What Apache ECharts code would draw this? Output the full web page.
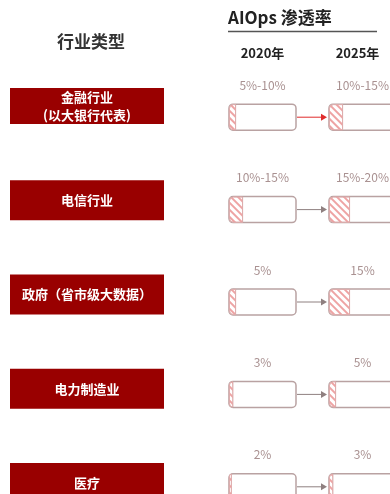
<!DOCTYPE html>
<html>
<head>
<meta charset="utf-8">
<title></title>
<style>
  html, body { margin: 0; padding: 0; background: #fff; }
  #tubiao { width: 390px; height: 494px; }
</style>
</head>
<body>
<div id="tubiao"></div>
<script src="https://cdn.jsdelivr.net/npm/echarts@6/dist/echarts.min.js"></script>
<script>
// 行业类型
var hylx = ['金融行业\n(以大银行代表)', '电信行业', '政府（省市级大数据）', '电力制造业', '医疗'];
var nf = ['2020年', '2025年'];
// 渗透率（取区间下限画阴影）
var stl2020 = [5, 10, 5, 3, 2];
var stl2025 = [10, 15, 15, 5, 3];
// 条形上方文字
var bq2020 = ['5%-10%', '10%-15%', '5%', '3%', '2%'];
var bq2025 = ['10%-15%', '15%-20%', '15%', '5%', '3%'];
var zd = 48; // 整个方框代表的刻度

var ziti = '"Noto Sans CJK SC", "Noto Sans", sans-serif';
var tkw = 67;   // 方框宽度
var x2020 = 229, x2025 = 329;
var barTop = 71, barH = 462;

var hatch = {
  symbol: 'rect',
  symbolSize: 1,
  color: '#eea3a3',
  dashArrayX: [1, 0],
  dashArrayY: [2, 3],
  rotation: Math.PI / 4
};

function tiaoxing(idx, vals, bq) {
  return {
    type: 'bar',
    xAxisIndex: idx,
    yAxisIndex: idx,
    data: vals,
    barWidth: 26,
    showBackground: true,
    backgroundStyle: {
      color: '#fff',
      borderColor: '#b9a2a2',
      borderWidth: 1.5,
      borderRadius: 4
    },
    itemStyle: {
      color: '#fff',
      borderColor: '#dcaaaa',
      borderWidth: 0.8,
      borderRadius: [4, 0, 0, 4],
      decal: hatch
    },
    label: {
      show: true,
      position: [tkw / 2, -19],
      align: 'center',
      verticalAlign: 'middle',
      fontFamily: ziti,
      fontSize: 12,
      color: '#a99191',
      formatter: function (p) { return bq[p.dataIndex]; }
    },
    silent: true
  };
}

var myChart = echarts.init(document.getElementById('tubiao'));
myChart.setOption({
  animation: false,
  grid: [
    { left: 87, width: 1, top: 59, height: 471, outerBoundsMode: 'none' },
    { left: x2020, width: tkw, top: barTop, height: barH, outerBoundsMode: 'none' },
    { left: x2025, width: tkw, top: barTop, height: barH, outerBoundsMode: 'none' }
  ],
  xAxis: [
    { gridIndex: 0, type: 'value', show: false },
    { gridIndex: 1, type: 'value', min: 0, max: zd, show: false },
    { gridIndex: 2, type: 'value', min: 0, max: zd, show: false }
  ],
  yAxis: [
    {
      gridIndex: 0, type: 'category', inverse: true, data: hylx,
      axisLine: { show: false }, axisTick: { show: false }, splitLine: { show: false },
      axisLabel: {
        margin: 0,
        align: 'center',
        verticalAlign: 'middle',
        backgroundColor: '#990000',
        width: 154,
        color: '#fff',
        fontFamily: ziti,
        fontWeight: 'bold',
        fontSize: 13,
        formatter: function (v) {
          var hang = v.split('\n');
          var ys = hang.length > 1 ? 'two' : 'one';
          return hang.map(function (h) { return '{' + ys + '|' + h + '}'; }).join('\n');
        },
        rich: {
          one: { color: '#fff', fontFamily: ziti, fontWeight: 'bold', fontSize: 13, lineHeight: 40, width: 154, align: 'center' },
          two: { color: '#fff', fontFamily: ziti, fontWeight: 'bold', fontSize: 13, lineHeight: 18, width: 154, align: 'center' }
        }
      }
    },
    { gridIndex: 1, type: 'category', inverse: true, data: hylx, show: false },
    { gridIndex: 2, type: 'category', inverse: true, data: hylx, show: false }
  ],
  series: [
    tiaoxing(1, stl2020, bq2020),
    tiaoxing(2, stl2025, bq2025)
  ]
});

// 标题、年份和箭头
var tuxing = [
  { type: 'text', x: 91, y: 42, style: { text: '行业类型', fill: '#333', font: 'bold 17px ' + ziti, textAlign: 'center', textVerticalAlign: 'middle' } },
  { type: 'text', x: 228, y: 18, style: { text: 'AIOps 渗透率', fill: '#222', font: 'bold 17px ' + ziti, textAlign: 'left', textVerticalAlign: 'middle' } },
  { type: 'line', shape: { x1: 228, y1: 31.5, x2: 377, y2: 31.5 }, style: { stroke: '#555', lineWidth: 1.5 } },
  { type: 'text', x: x2020 + tkw / 2, y: 53, style: { text: nf[0], fill: '#222', font: 'bold 13px ' + ziti, textAlign: 'center', textVerticalAlign: 'middle' } },
  { type: 'text', x: x2025 + tkw / 2 - 5, y: 53, style: { text: nf[1], fill: '#222', font: 'bold 13px ' + ziti, textAlign: 'center', textVerticalAlign: 'middle' } }
];
for (var i = 0; i < hylx.length; i++) {
  var p1 = myChart.convertToPixel({ xAxisIndex: 1, yAxisIndex: 1 }, [zd, i]);
  var p2 = myChart.convertToPixel({ xAxisIndex: 2, yAxisIndex: 2 }, [0, i]);
  var ys = i === 0 ? '#e02b2b' : '#8f8080';
  tuxing.push({ type: 'line', shape: { x1: p1[0] + 1, y1: p1[1], x2: p2[0] - 6, y2: p2[1] }, style: { stroke: ys, lineWidth: 1 } });
  tuxing.push({ type: 'polygon', shape: { points: [[p2[0] - 8, p1[1] - 3.5], [p2[0] - 2, p1[1]], [p2[0] - 8, p1[1] + 3.5]] }, style: { fill: ys } });
}
myChart.setOption({ graphic: tuxing });
</script>
</body>
</html>
